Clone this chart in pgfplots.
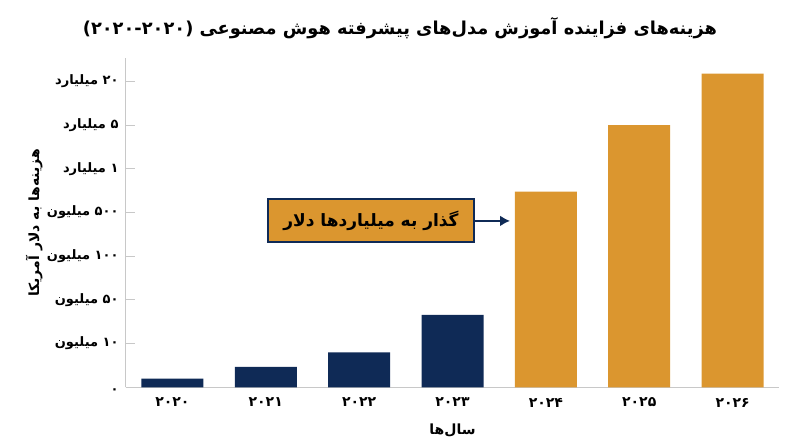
\documentclass[border=0pt]{standalone}
\usepackage{fontspec}
\usepackage{pgfplots}
\pgfplotsset{compat=1.18}
\usetikzlibrary{arrows.meta}
\TeXXeTstate=1
\newfontfamily\fa[Script=Arabic]{DejaVu Sans}
\definecolor{navy}{HTML}{0F2A56}
\definecolor{gold}{HTML}{DB962F}
\definecolor{axgray}{HTML}{C8C8C8}

\begin{document}
\begin{tikzpicture}[x=1pt,y=1pt]
\useasboundingbox (0,0) rectangle (800,447);

\node[font=\fontsize{17.8}{21}\selectfont] at (400,419)
  {\fa\bfseries\beginR هزینه‌های فزاینده آموزش مدل‌های پیشرفته هوش مصنوعی \beginL(۲۰۲۰-۲۰۲۰)\endL{}\endR};

\begin{axis}[
    at={(125.7pt,59.7pt)}, anchor=south west,
    scale only axis, width=653.6pt, height=329pt,
    xmin=-0.5, xmax=6.5, ymin=0, ymax=7.53,
    axis lines*=left,
    axis line style={axgray, line width=1pt},
    ybar, bar width=62pt, bar shift=0pt,
    xtick={0,...,6},
    xticklabels={
      {\fa\bfseries\beginR ۲۰۲۰\endR},
      {\fa\bfseries\beginR ۲۰۲۱\endR},
      {\fa\bfseries\beginR ۲۰۲۲\endR},
      {\fa\bfseries\beginR ۲۰۲۳\endR},
      {\fa\bfseries\beginR ۲۰۲۴\endR},
      {\fa\bfseries\beginR ۲۰۲۵\endR},
      {\fa\bfseries\beginR ۲۰۲۶\endR}},
    ytick={0,...,7},
    yticklabels={
      {\raisebox{-4pt}[\height][\depth]{\fa\bfseries\beginR ۰\endR}},
      {\fa\bfseries\beginR ۱۰ میلیون\endR},
      {\fa\bfseries\beginR ۵۰ میلیون\endR},
      {\fa\bfseries\beginR ۱۰۰ میلیون\endR},
      {\fa\bfseries\beginR ۵۰۰ میلیون\endR},
      {\fa\bfseries\beginR ۱ میلیارد\endR},
      {\fa\bfseries\beginR ۵ میلیارد\endR},
      {\fa\bfseries\beginR ۲۰ میلیارد\endR}},
    tick align=inside,
    major tick length=9pt,
    ytick style={axgray, line width=1pt},
    xtick style={draw=none},
    ticklabel style={text=black},
    yticklabel style={font=\fontsize{13}{15}\selectfont, anchor=east, inner sep=0pt, xshift=-7pt},
    xticklabel style={font=\fontsize{14}{16}\selectfont, anchor=north, inner sep=0pt, yshift=-10.5pt},
    xlabel={\fa\bfseries\beginR سال‌ها\endR},
    ylabel={\fa\bfseries\beginR هزینه‌ها به دلار آمریکا\endR},
    label style={font=\fontsize{14}{17}\selectfont},
    xlabel style={at={(axis description cs:0.5,-0.131)}, anchor=center},
    ylabel style={at={(axis description cs:-0.140,0.5)}, anchor=center},
    clip=false,
]
\addplot[fill=navy, draw=none] coordinates {(0,0.20) (1,0.47) (2,0.80) (3,1.66)};
\addplot[fill=gold, draw=none] coordinates {(4,4.48) (5,6.00) (6,7.18)};

\node[draw=navy, line width=2pt, fill=gold, minimum width=206pt, minimum height=43pt,
      inner sep=0pt, font=\fontsize{17}{20}\selectfont] (box) at (axis cs:2.127,3.808)
  {\fa\bfseries\beginR گذار به میلیاردها دلار\endR};
\draw[navy, line width=2pt, -{Latex[length=10pt,width=11pt]}] (box.east) -- (axis cs:3.616,3.808);
\end{axis}
\end{tikzpicture}
\end{document}
